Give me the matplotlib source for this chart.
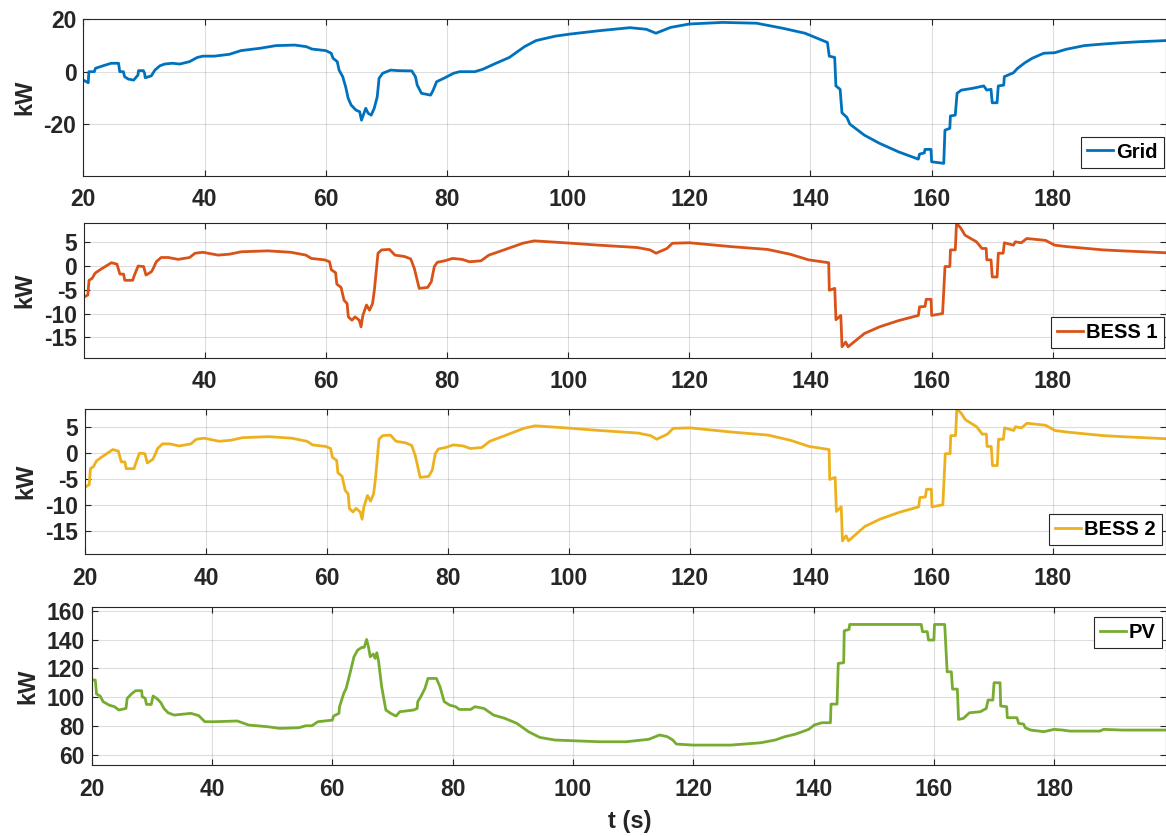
import numpy as np
import matplotlib
matplotlib.use("Agg")
import matplotlib.pyplot as plt

plt.rcParams['font.family'] = ['Liberation Sans', 'DejaVu Sans']
plt.rcParams['font.weight'] = 'bold'
plt.rcParams['axes.unicode_minus'] = False

# power flows (kW) vs time (s), breakpoints of the recorded traces
grid_t = [20.0, 20.8, 20.9, 21.8, 22.0, 22.8, 23.6, 24.6, 25.8, 26.0, 26.6, 26.8, 27.4, 28.3,
          29.0, 29.1, 29.9, 30.1, 30.2, 31.2, 31.8, 32.6, 33.4, 34.7, 35.9, 37.5, 38.8, 39.7,
          41.6, 44.1, 46.0, 49.2, 51.8, 54.9, 56.8, 57.7, 60.0, 60.9, 61.2, 61.9, 62.2, 62.8,
          63.3, 63.7, 64.2, 65.0, 65.6, 65.9, 66.3, 66.6, 67.0, 67.5, 68.0, 68.5, 68.8, 69.4,
          70.7, 72.0, 74.2, 74.8, 75.1, 75.8, 77.3, 77.7, 78.3, 79.5, 81.1, 82.1, 84.6, 85.9,
          87.8, 90.3, 92.8, 94.7, 97.9, 100.4, 105.3, 110.2, 112.9, 114.5, 116.9, 120.0, 125.5,
          131.1, 135.4, 139.1, 142.8, 143.1, 144.0, 144.2, 144.9, 145.2, 146.0, 146.5, 148.9,
          151.4, 154.5, 157.8, 158.0, 158.8, 158.9, 159.9, 160.0, 162.0, 162.2, 163.0, 163.1,
          163.9, 164.2, 164.9, 166.8, 168.6, 169.1, 169.8, 170.0, 170.8, 171.0, 171.9, 172.0,
          173.5, 174.2, 175.4, 176.6, 178.5, 180.3, 182.2, 185.2, 188.3, 191.4, 194.5, 198.6]
grid_p = [-3.2, -4.2, 0.0, 0.0, 1.3, 1.9, 2.5, 3.2, 3.2, 0.0, 0.0, -1.9, -2.8, -3.2,
          -1.3, 0.4, 0.4, -0.6, -2.3, -1.6, 0.6, 2.2, 2.9, 3.2, 2.9, 3.8, 5.4, 5.9,
          5.9, 6.6, 8.0, 8.9, 9.9, 10.1, 9.5, 8.6, 8.0, 7.0, 5.1, 3.8, 0.6, -1.9,
          -5.9, -10.1, -12.7, -14.6, -15.2, -18.4, -15.8, -13.9, -15.8, -16.5, -13.9, -9.5, -2.5, -0.6,
          0.6, 0.4, 0.3, -1.9, -5.1, -8.2, -8.9, -7.2, -3.8, -2.5, -0.6, 0.0, 0.0, 0.9,
          2.9, 5.4, 9.5, 11.8, 13.5, 14.3, 15.6, 16.7, 16.1, 14.6, 16.8, 18.1, 18.7,
          18.4, 16.5, 14.6, 11.1, 5.9, 5.4, -5.4, -6.7, -15.6, -17.3, -19.9, -24.1,
          -27.2, -30.4, -33.2, -31.3, -30.8, -29.5, -29.5, -34.2, -34.8, -22.2, -21.5, -16.8,
          -16.5, -8.2, -7.0, -6.3, -5.4, -7.0, -6.7, -11.8, -11.8, -5.4, -5.1, -1.9,
          -0.4, 1.3, 3.4, 5.1, 7.0, 7.2, 8.5, 9.9, 10.5, 11.0, 11.4, 11.8]

bess_t = [20.1, 20.7, 20.9, 21.4, 21.9, 22.7, 23.6, 24.6, 25.5, 26.0, 26.6, 26.8, 28.1, 28.4,
          29.0, 29.9, 30.3, 31.2, 31.5, 32.0, 32.8, 34.0, 35.6, 37.5, 38.4, 39.7, 42.2, 44.1,
          46.0, 50.4, 54.2, 56.7, 57.6, 59.8, 60.6, 60.9, 61.6, 61.8, 62.5, 63.0, 63.5, 63.7,
          64.3, 64.8, 65.5, 65.8, 66.1, 66.7, 67.2, 67.7, 68.0, 68.6, 69.2, 70.5, 71.4, 73.0,
          74.0, 74.6, 75.0, 75.4, 76.8, 77.4, 77.9, 78.4, 79.6, 80.9, 82.5, 83.7, 85.6, 86.9,
          89.4, 92.5, 94.4, 96.9, 99.4, 105.0, 111.4, 113.5, 114.5, 116.3, 117.2, 120.0, 126.8,
          132.9, 136.6, 139.7, 143.0, 143.1, 144.0, 144.2, 145.0, 145.2, 145.8, 146.2, 148.9,
          151.4, 154.5, 157.8, 158.0, 158.9, 159.1, 159.9, 160.0, 161.8, 162.2, 163.0, 163.1,
          163.9, 164.1, 164.8, 165.5, 167.4, 168.3, 169.0, 169.1, 169.8, 170.0, 170.8, 171.0,
          171.8, 172.0, 173.5, 173.8, 174.8, 175.7, 177.2, 178.8, 180.3, 182.2, 188.3, 191.4, 198.6]
bess1_p = [-6.5, -6.1, -3.0, -2.6, -1.5, -0.8, -0.1, 0.7, 0.4, -1.7, -1.7, -3.0, -3.0, -1.9,
           0.0, -0.1, -1.9, -1.2, -0.5, 0.9, 1.8, 1.8, 1.4, 1.8, 2.7, 2.9, 2.3, 2.5,
           3.0, 3.2, 2.9, 2.3, 1.6, 1.3, 0.9, -0.8, -1.4, -3.8, -4.5, -7.2, -7.9, -10.7,
           -11.4, -10.7, -11.4, -12.8, -10.4, -8.2, -9.3, -7.9, -5.1, 2.7, 3.4, 3.5, 2.3, 2.0,
           1.5, -0.5, -2.6, -4.7, -4.5, -3.3, -0.1, 0.8, 1.1, 1.6, 1.4, 0.9, 1.1, 2.3,
           3.4, 4.8, 5.3, 5.1, 4.9, 4.4, 3.9, 3.4, 2.7, 3.7, 4.8, 4.9, 4.1,
           3.5, 2.5, 1.3, 0.7, -5.1, -4.7, -11.3, -10.4, -17.0, -16.0, -17.0, -14.2,
           -12.8, -11.5, -10.4, -8.6, -8.5, -7.0, -7.0, -10.4, -10.0, -0.1, -0.1, 3.4,
           3.4, 9.0, 8.0, 6.5, 5.1, 3.7, 3.7, 1.3, 1.3, -2.3, -2.3, 2.7,
           2.7, 4.9, 4.4, 5.1, 4.9, 5.8, 5.6, 5.4, 4.4, 4.1, 3.4, 3.2, 2.8]
bess2_t = [20.0] + bess_t[1:]
bess2_p = [-6.6, -6.1, -3.0, -2.6, -1.5, -0.8, -0.1, 0.7, 0.4, -1.7, -1.7, -3.0, -3.0, -1.9,
           0.0, -0.1, -1.9, -1.2, -0.5, 0.9, 1.8, 1.8, 1.4, 1.8, 2.7, 2.9, 2.3, 2.5,
           3.0, 3.2, 2.9, 2.3, 1.6, 1.3, 0.9, -0.8, -1.4, -3.8, -4.5, -7.2, -7.9, -10.7,
           -11.4, -10.7, -11.4, -12.8, -10.4, -8.2, -9.3, -7.9, -5.1, 2.7, 3.4, 3.5, 2.3, 2.0,
           1.5, -0.5, -2.6, -4.7, -4.5, -3.3, -0.1, 0.8, 1.1, 1.6, 1.4, 0.9, 1.1, 2.3,
           3.4, 4.8, 5.3, 5.1, 4.9, 4.4, 3.9, 3.4, 2.7, 3.7, 4.8, 4.9, 4.1,
           3.5, 2.5, 1.3, 0.7, -5.1, -4.7, -11.3, -10.4, -17.0, -16.0, -17.0, -14.2,
           -12.8, -11.5, -10.4, -8.6, -8.5, -7.0, -7.0, -10.4, -10.0, -0.1, -0.1, 3.4,
           3.4, 8.5, 7.8, 6.5, 5.1, 3.7, 3.7, 1.3, 1.3, -2.4, -2.4, 2.7,
           2.7, 4.9, 4.4, 5.1, 4.9, 5.8, 5.6, 5.4, 4.4, 4.1, 3.4, 3.2, 2.8]

pv_t = [20.0, 20.6, 20.8, 21.4, 21.9, 22.9, 23.8, 24.5, 25.7, 25.9, 26.7, 27.3, 28.3, 28.4,
        28.9, 29.1, 29.9, 30.2, 30.8, 31.5, 32.0, 32.7, 33.7, 35.3, 36.5, 37.8, 38.8, 40.4,
        44.2, 46.1, 49.3, 51.2, 54.4, 55.6, 56.6, 57.6, 60.0, 60.2, 61.1, 61.2, 61.9, 62.3,
        63.0, 63.6, 64.2, 64.9, 65.3, 65.7, 66.0, 66.3, 66.8, 67.1, 67.4, 67.7, 68.2, 68.9,
        69.7, 70.6, 71.2, 73.5, 74.1, 74.2, 74.7, 75.4, 75.9, 77.3, 77.9, 78.6, 79.5, 80.5,
        81.1, 83.0, 83.7, 85.2, 86.8, 88.7, 90.7, 92.6, 94.5, 97.0, 100.2, 104.5, 108.8,
        112.6, 114.4, 115.7, 116.6, 117.2, 120.0, 126.2, 131.2, 133.6, 135.2, 137.0, 139.2,
        140.1, 141.4, 142.8, 142.9, 143.9, 144.1, 145.0, 145.1, 145.9, 146.0, 157.9, 158.1,
        158.9, 159.1, 160.0, 160.1, 161.8, 162.2, 162.9, 163.1, 163.9, 164.1, 164.9, 165.9,
        167.7, 168.7, 169.0, 169.8, 170.0, 171.0, 171.1, 172.1, 172.2, 173.8, 174.1, 174.9,
        175.2, 176.1, 178.3, 180.0, 181.4, 182.6, 187.6, 188.2, 191.3, 198.6]
pv_p = [112.0, 112.0, 102.3, 100.9, 97.0, 94.6, 93.5, 91.2, 92.3, 99.3, 102.7, 104.6, 104.6, 100.4,
        99.3, 95.1, 95.1, 100.9, 99.3, 96.3, 92.3, 89.3, 87.7, 88.4, 88.9, 87.3, 83.1, 83.1,
        83.6, 80.8, 79.6, 78.5, 78.9, 80.3, 80.3, 83.1, 84.2, 87.0, 88.9, 93.5, 102.7, 106.2,
        117.7, 128.1, 132.7, 134.6, 134.6, 140.1, 135.1, 128.1, 130.0, 127.0, 130.9, 124.7, 107.3, 91.2,
        88.9, 87.0, 90.0, 91.2, 92.3, 97.0, 100.4, 106.2, 113.1, 113.1, 107.3, 97.0, 94.6, 93.5,
        91.6, 91.6, 93.5, 92.3, 87.7, 85.4, 81.9, 76.2, 72.2, 70.4, 69.9, 69.2, 69.2,
        70.9, 73.9, 72.7, 70.4, 67.6, 66.9, 66.9, 68.5, 70.4, 72.7, 74.5, 77.8,
        80.8, 82.4, 82.4, 95.3, 95.3, 123.5, 124.0, 146.1, 147.1, 150.5, 150.5, 145.5,
        145.5, 139.7, 139.7, 150.5, 150.5, 117.7, 117.7, 105.7, 105.7, 84.7, 85.4, 89.3,
        90.0, 92.3, 98.1, 98.1, 110.1, 110.1, 94.0, 93.5, 85.9, 85.9, 81.9, 81.5,
        78.9, 77.3, 76.2, 77.8, 77.3, 76.6, 76.6, 77.8, 77.3, 77.3]

t_ticks = [20, 40, 60, 80, 100, 120, 140, 160, 180]

W, H = 1166, 836
fig = plt.figure(figsize=(W / 100, H / 100), dpi=100)

ink = '#262626'

def px_rect(left, top, bottom, right=1165.5):
    return [left / W, 1 - bottom / H, (right - left) / W, (bottom - top) / H]

panels = [
    dict(t=grid_t, p=grid_p, color='#0072BD', name='Grid', rect=px_rect(83.4, 19, 176),
         xlim=(20, 198.6), ylim=(-39.6, 20), yticks=[-20, 0, 20],
         leg=(1163.5, 136.5), lab_x=25),
    dict(t=bess_t, p=bess1_p, color='#D95319', name='BESS 1', rect=px_rect(84.2, 223.3, 357.7),
         xlim=(20.1, 198.6), ylim=(-19.3, 9.0), yticks=[-15, -10, -5, 0, 5],
         leg=(1164, 317), lab_x=25),
    dict(t=bess2_t, p=bess2_p, color='#EDB120', name='BESS 2', rect=px_rect(85, 409.3, 554.3),
         xlim=(20, 198.6), ylim=(-19.6, 8.5), yticks=[-15, -10, -5, 0, 5],
         leg=(1162, 514), lab_x=26),
    dict(t=pv_t, p=pv_p, color='#77AC30', name='PV', rect=px_rect(91.7, 607, 765),
         xlim=(20, 198.5), ylim=(53.1, 162.6), yticks=[60, 80, 100, 120, 140, 160],
         leg=(1162, 616.7), lab_x=27.5),
]

for pnl in panels:
    ax = fig.add_axes(pnl['rect'])
    ax.plot(pnl['t'], pnl['p'], color=pnl['color'], lw=2.0, label=pnl['name'])
    x0, x1 = pnl['xlim']
    ax.set_xlim(x0, x1)
    ax.set_ylim(*pnl['ylim'])
    ax.set_xticks([v for v in t_ticks if v >= x0])
    ax.set_yticks(pnl['yticks'])
    ax.grid(True, color=ink, alpha=0.15, lw=0.8)
    ax.tick_params(direction='in', top=True, right=True, length=4.5, width=0.8,
                   colors=ink, labelsize=16.5)
    ax.tick_params(axis='x', pad=9)
    ax.tick_params(axis='y', pad=5)
    for lbl in ax.get_xticklabels() + ax.get_yticklabels():
        lbl.set_fontweight('bold')
    for sp in ax.spines.values():
        sp.set_color(ink)
        sp.set_linewidth(0.8)
    lx, ly = pnl['leg']
    leg = ax.legend(loc='upper right', bbox_to_anchor=(lx / W, 1 - ly / H),
                    bbox_transform=fig.transFigure, borderaxespad=0, fancybox=False,
                    framealpha=1, edgecolor=ink, handlelength=1.3, handletextpad=0.15,
                    borderpad=0.3, prop=dict(size=14.5, weight='bold'))
    leg.get_frame().set_linewidth(0.8)
    top_px = (1 - pnl['rect'][1] - pnl['rect'][3]) * H
    bot_px = (1 - pnl['rect'][1]) * H
    fig.text(pnl['lab_x'] / W, 1 - (top_px + bot_px) / 2 / H, 'kW', rotation=90,
             ha='center', va='center', fontsize=17, fontweight='bold', color=ink)

fig.text(630 / W, 1 - 821.7 / H, 't (s)', ha='center', va='center', fontsize=17,
         fontweight='bold', color=ink)

fig.savefig('out.png', dpi=100)
